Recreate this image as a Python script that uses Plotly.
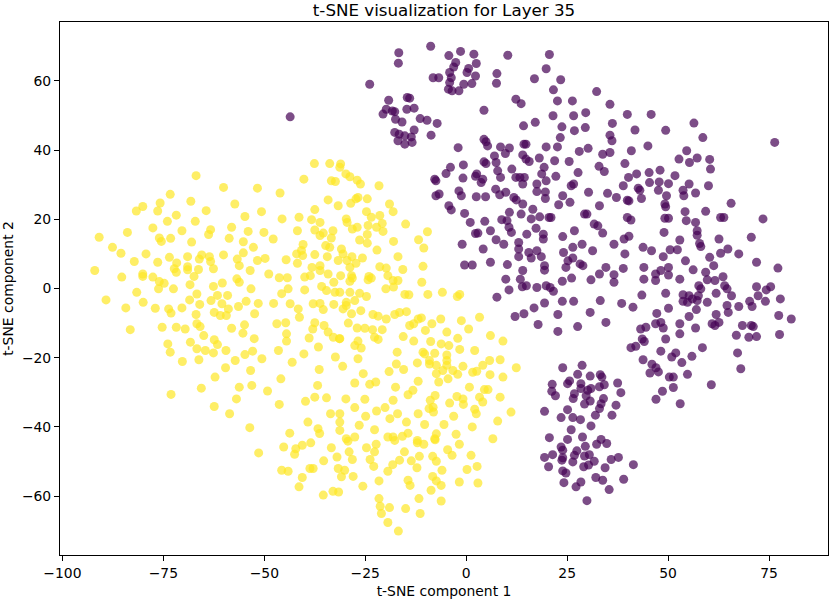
import plotly.graph_objects as go

# t-SNE coordinates, grouped by class
purple_pts = [
    (-8.8, 70.0), (-16.7, 68.1), (-16.8, 65.1), (-4.3, 67.3), (-1.4, 68.5), (1.9, 67.7), (2.5, 65.0),
    (-2.6, 65.3), (-3.1, 64.0), (0.6, 63.6), (0.2, 62.4), (2.3, 61.4), (-4.1, 62.4), (-3.7, 60.9),
    (-4.1, 59.5), (-4.4, 57.6), (-3.5, 57.1), (-1.8, 57.1), (-0.6, 59.0), (1.4, 59.2), (-8.2, 60.9),
    (-6.8, 60.9), (-23.9, 59.0), (7.6, 62.1), (7.5, 59.3), (10.3, 67.4), (20.6, 67.6), (19.8, 63.5),
    (16.9, 60.6), (23.4, 60.3), (21.6, 57.4), (22.6, 54.2), (26.3, 54.2), (29.6, 50.8), (26.6, 49.9),
    (21.5, 49.9), (12.3, 54.7), (13.6, 53.4), (4.4, 51.5), (-19.2, 54.4), (-14.6, 55.2), (-14.0, 55.0),
    (-14.7, 51.8), (-12.9, 52.1), (-20.6, 50.4), (-19.8, 51.8), (-18.3, 51.3), (-17.7, 51.1),
    (-17.5, 48.9), (-15.9, 48.1), (-11.4, 49.1), (-9.7, 48.6), (-7.2, 47.7), (-17.7, 45.1),
    (-16.6, 44.6), (-16.9, 42.7), (-15.2, 41.7), (-15.2, 44.1), (-13.6, 43.8), (-13.4, 42.2),
    (-12.9, 45.8), (-8.7, 44.3), (-2.0, 40.7), (4.4, 43.1), (4.9, 42.4), (5.3, 41.2), (8.5, 40.9),
    (10.7, 40.6), (9.7, 39.0), (14.3, 41.7), (14.8, 41.7), (14.0, 38.6), (15.6, 36.7), (14.8, 37.4),
    (17.1, 48.0), (14.2, 47.0), (23.7, 46.7), (26.8, 45.6), (29.5, 46.5), (23.3, 43.6), (19.8, 40.9),
    (22.6, 40.9), (28.0, 39.6), (21.9, 36.9), (25.5, 36.7), (18.1, 37.7), (19.3, 35.0), (18.7, 33.1),
    (27.7, 33.5), (7.0, 38.3), (7.4, 36.4), (4.9, 36.1), (4.4, 36.6), (-0.7, 35.7), (-3.9, 35.0),
    (-5.0, 33.2), (-7.8, 31.6), (-0.8, 31.9), (2.6, 33.1), (2.3, 32.4), (7.8, 34.0), (8.5, 32.1),
    (11.3, 34.5), (12.3, 32.1), (13.3, 32.1), (14.4, 32.1), (22.2, 32.4), (4.1, 31.6), (-43.6, 49.6),
    (32.3, 56.9), (35.6, 53.2), (39.9, 50.3), (45.8, 50.3), (36.2, 47.7), (41.8, 45.8), (49.4, 45.7),
    (56.4, 47.8), (58.6, 43.6), (35.6, 44.3), (36.1, 42.7), (30.2, 40.5), (33.8, 38.8), (35.6, 39.3),
    (40.9, 39.8), (45.0, 41.2), (54.6, 39.8), (52.7, 37.4), (55.3, 36.4), (57.2, 37.7), (60.3, 37.3),
    (60.5, 34.5), (32.9, 35.3), (34.2, 33.8), (39.3, 36.1), (40.2, 32.1), (42.2, 33.1), (45.3, 33.5),
    (48.0, 34.2), (51.7, 32.6), (76.4, 42.2),
    (-7.5, 31.1), (3.7, 30.6), (14.0, 30.2), (17.5, 30.2), (19.8, 31.1), (26.0, 29.7), (26.6, 30.2),
    (30.3, 27.8), (35.0, 27.5), (-7.5, 26.8), (-6.7, 27.3), (-1.8, 28.2), (-1.2, 26.8), (2.5, 26.5),
    (4.8, 26.5), (7.3, 28.7), (8.3, 27.1), (9.8, 27.8), (11.8, 26.3), (12.4, 25.6), (14.0, 24.4),
    (17.5, 28.0), (19.6, 27.9), (19.6, 26.0), (23.9, 26.8), (25.7, 24.9), (22.9, 24.2), (33.0, 23.9),
    (-4.3, 23.9), (-3.7, 22.7), (-0.4, 21.7), (1.0, 19.1), (4.6, 19.4), (8.8, 19.9), (10.1, 19.6),
    (10.7, 22.0), (13.6, 21.5), (16.5, 22.9), (16.1, 20.1), (18.2, 20.7), (20.5, 20.5), (21.0, 20.5),
    (29.3, 21.5), (29.9, 21.5), (31.7, 18.6), (32.6, 18.1), (33.8, 16.0), (2.9, 16.0), (2.3, 15.9),
    (6.0, 16.7), (10.6, 17.7), (11.2, 16.2), (15.0, 15.7), (17.3, 17.4), (19.1, 15.7), (19.1, 14.3),
    (23.9, 15.0), (26.8, 16.7), (-1.0, 12.8), (4.2, 11.4), (7.4, 14.1), (9.3, 12.8), (13.0, 13.3),
    (13.0, 11.4), (13.0, 9.2), (15.5, 10.4), (16.1, 8.8), (17.5, 10.9), (18.6, 9.2), (24.1, 10.4),
    (26.4, 11.9), (28.7, 12.8), (31.3, 10.9), (26.4, 8.8), (25.2, 8.0), (24.7, 6.1), (28.2, 7.1),
    (28.9, 6.6), (-0.4, 6.8), (1.5, 6.8), (6.0, 7.6), (10.2, 6.9), (19.4, 6.6), (19.4, 5.3),
    (14.0, 5.2), (34.6, 6.1), (33.0, 4.2), (9.8, 2.7), (13.4, 2.7), (14.9, 0.8), (13.9, 0.5),
    (10.6, -0.4), (17.5, 0.3), (19.8, 0.8), (20.8, 0.3), (21.6, -0.8), (23.8, 2.1), (26.1, 3.0),
    (30.9, 2.5), (7.6, -2.5), (23.8, -3.7), (26.6, -3.7), (19.4, -4.2), (16.8, -5.6), (14.3, -7.3),
    (12.1, -8.1), (22.7, -7.5), (30.7, -6.9), (33.2, -3.5), (34.6, -9.8), (17.8, -10.4), (27.6, -11.0),
    (22.7, -12.4),
    (38.9, 29.7), (45.4, 30.6), (47.8, 30.8), (50.1, 30.3), (55.2, 30.2), (60.0, 29.7), (42.6, 29.0),
    (43.0, 28.4), (47.6, 28.4), (53.7, 28.4), (53.9, 26.8), (56.8, 27.6), (49.6, 26.8), (37.2, 26.3),
    (39.9, 25.5), (40.3, 25.3), (43.4, 26.0), (49.2, 24.4), (49.4, 23.6), (65.6, 24.6), (54.2, 22.2),
    (59.3, 22.3), (54.5, 19.6), (56.8, 19.1), (63.0, 20.5), (63.8, 20.5), (73.5, 20.1), (39.9, 20.5),
    (40.8, 19.8), (49.2, 20.3), (50.1, 20.3), (49.0, 16.2), (57.2, 16.7), (57.2, 15.4), (52.9, 14.0),
    (57.8, 13.0), (58.1, 12.1), (62.6, 14.3), (70.6, 14.8), (36.6, 12.8), (39.1, 14.3), (40.3, 15.1),
    (43.8, 11.9), (45.9, 10.9), (50.5, 11.2), (52.3, 11.2), (48.8, 9.2), (54.3, 8.0), (60.3, 9.0),
    (61.3, 6.6), (63.0, 10.2), (64.8, 11.4), (67.5, 10.0), (71.9, 7.6), (39.3, 10.0), (38.9, 5.8),
    (36.6, 4.0), (36.6, 1.8), (44.0, 6.1), (44.0, 2.7), (46.9, 4.2), (46.9, 2.3), (48.2, 5.2),
    (50.1, 6.1), (50.1, 3.9), (52.9, 2.7), (56.2, 5.4), (59.3, 4.7), (59.7, 2.5), (57.6, 0.8),
    (61.6, 2.3), (63.6, 3.4), (64.0, 0.8), (64.6, -0.1), (71.9, 0.5), (74.3, -0.4), (75.4, 0.5),
    (72.3, -2.1), (77.2, 5.9), (43.5, -1.9), (49.4, -1.4), (53.7, -1.8), (55.2, -2.1), (56.0, -3.0),
    (57.5, -2.1), (58.1, -0.1), (53.7, -3.7), (54.8, -4.0), (57.2, -3.5), (59.7, -4.0), (61.9, -1.4),
    (65.7, -2.1), (70.2, -3.7), (70.8, -5.2), (74.1, -3.7), (77.8, -3.0), (38.5, -4.3), (41.3, -5.4),
    (50.1, -5.7), (57.0, -6.1), (64.6, -4.9), (67.5, -5.2), (64.9, -6.9), (47.2, -7.2), (48.2, -9.8),
    (48.8, -11.4), (44.5, -11.2), (43.2, -11.7), (46.9, -10.2), (55.2, -8.1), (52.9, -10.2),
    (56.8, -11.4), (52.9, -13.1), (61.9, -7.5), (62.6, -9.8), (60.9, -10.2), (61.6, -10.7),
    (68.4, -10.7), (70.6, -10.7), (71.1, -11.0), (66.9, -13.5), (70.0, -14.1), (71.9, -13.9),
    (77.4, -7.8), (80.5, -8.8), (77.6, -13.3), (49.4, -14.6), (43.6, -14.6),
    (44.1, -15.3), (40.8, -17.1), (42.0, -16.7), (48.2, -18.1), (51.9, -18.6), (50.9, -19.8),
    (53.4, -21.4), (55.9, -19.6), (58.5, -17.1), (67.2, -18.6), (43.8, -20.6), (46.0, -21.9),
    (47.0, -22.9), (47.6, -24.1), (45.5, -24.4), (50.3, -25.6), (51.3, -25.6), (54.8, -24.8),
    (60.7, -27.8), (68.0, -23.2), (51.3, -28.6), (48.6, -29.7), (47.0, -32.0), (53.0, -33.3),
]

purple_lower_pts = [
    (23.9, -22.9), (28.7, -22.2), (27.6, -24.8), (30.7, -25.3), (33.2, -24.9), (33.6, -25.6),
    (34.2, -27.8), (37.5, -27.3), (38.3, -30.1), (21.3, -27.7), (21.2, -29.7), (22.1, -31.0),
    (25.6, -26.7), (25.1, -27.5), (28.4, -27.5), (28.4, -28.9), (26.8, -30.4), (26.5, -31.8),
    (30.1, -29.4), (30.9, -28.9), (29.7, -31.0), (30.7, -32.5), (29.3, -33.4), (33.0, -28.4),
    (34.0, -31.8), (33.4, -33.3), (33.0, -34.7), (37.1, -33.7), (36.1, -36.6), (32.0, -36.6),
    (30.9, -39.7), (19.4, -35.5), (23.5, -37.3), (25.1, -35.0), (26.4, -37.3), (28.3, -37.9),
    (26.0, -40.8), (20.6, -43.1), (25.1, -43.6), (23.5, -45.8), (23.9, -46.7), (21.4, -48.0),
    (19.4, -48.8), (20.4, -51.5), (23.7, -49.6), (23.9, -48.9), (26.8, -48.2), (26.4, -50.1),
    (27.4, -46.9), (28.8, -42.9), (29.5, -45.6), (29.3, -48.4), (30.5, -48.0), (29.1, -51.5),
    (30.3, -51.0), (31.7, -49.9), (32.3, -45.0), (33.4, -43.6), (34.8, -44.8), (35.9, -49.4),
    (37.7, -48.8), (34.4, -51.8), (41.4, -50.9), (23.9, -52.7), (24.7, -53.3), (24.2, -56.1),
    (28.4, -55.9), (27.2, -57.3), (32.1, -54.6), (33.8, -55.4), (35.4, -58.1), (39.0, -55.1),
    (29.9, -61.3),
]

yellow_pts = [
    (-66.9, 32.6), (-60.1, 29.2), (-51.7, 29.0), (-73.3, 27.2), (-75.8, 24.7), (-80.1, 23.7),
    (-81.7, 22.4), (-76.4, 22.4), (-68.2, 25.2), (-64.4, 22.5), (-57.3, 24.4), (-54.8, 20.8),
    (-50.7, 22.2), (-71.8, 21.2), (-74.0, 19.4), (-67.1, 19.4), (-77.6, 17.5), (-83.9, 16.2),
    (-70.4, 16.7), (-63.3, 17.0), (-63.8, 15.6), (-58.1, 17.7), (-54.0, 16.5), (-50.1, 16.2),
    (-90.9, 14.8), (-76.0, 14.6), (-75.5, 13.6), (-73.2, 14.5), (-68.0, 13.4), (-58.7, 14.5),
    (-55.2, 13.5), (-52.7, 11.9), (-87.6, 11.9), (-85.5, 10.2), (-79.3, 10.0), (-82.2, 7.8),
    (-76.4, 7.6), (-73.5, 9.0), (-71.7, 7.4), (-69.0, 9.2), (-66.1, 8.5), (-65.5, 9.7), (-63.6, 9.2),
    (-63.3, 7.8), (-60.1, 9.7), (-56.7, 8.5), (-55.2, 10.3), (-51.7, 8.1), (-49.8, 8.7), (-56.2, 6.6),
    (-92.0, 5.2), (-85.3, 3.3), (-80.1, 4.2), (-80.1, 3.5), (-77.6, 3.3), (-72.3, 5.7), (-71.8, 4.7),
    (-69.0, 6.3), (-69.0, 5.4), (-66.3, 5.5), (-62.6, 5.7), (-53.5, 5.2), (-48.9, 4.2), (-76.0, 2.0),
    (-74.8, 1.5), (-67.4, 3.5), (-68.4, 1.1), (-62.6, 0.6), (-60.4, 1.6), (-56.8, 2.8), (-56.2, 1.8),
    (-53.3, -0.1), (-72.5, -0.1), (-76.2, -0.1),
    (-37.6, 36.1), (-33.8, 36.1), (-31.1, 36.0), (-31.3, 35.0), (-29.8, 33.1), (-28.8, 32.3),
    (-27.0, 31.3), (-26.2, 30.2), (-40.2, 31.6), (-33.4, 31.1), (-32.4, 30.9), (-21.6, 29.7),
    (-46.1, 27.6), (-34.2, 25.6), (-31.7, 23.9), (-28.6, 24.6), (-27.3, 25.9), (-26.8, 26.3),
    (-24.5, 25.9), (-37.5, 22.8), (-19.0, 24.4), (-18.1, 22.2), (-24.7, 22.2), (-45.6, 20.1),
    (-41.4, 20.6), (-38.3, 19.9), (-36.2, 19.1), (-29.7, 20.1), (-29.5, 19.1), (-23.5, 20.6),
    (-21.4, 21.1), (-20.8, 18.8), (-15.0, 18.6), (-27.0, 17.7), (-28.2, 17.2), (-24.3, 18.2),
    (-22.2, 17.7), (-20.6, 16.5), (-47.8, 14.3), (-41.8, 16.7), (-37.5, 16.9), (-35.4, 16.0),
    (-33.0, 16.7), (-33.4, 14.6), (-36.2, 15.3), (-26.4, 14.0), (-24.5, 15.6), (-24.5, 13.1),
    (-18.0, 13.6), (-11.8, 14.1), (-9.6, 16.4), (-10.5, 11.7), (-40.4, 12.7), (-40.8, 11.0),
    (-42.0, 10.0), (-40.5, 9.5), (-34.8, 12.4), (-33.8, 11.9), (-30.9, 11.4), (-30.5, 10.0),
    (-28.3, 9.2), (-22.1, 11.1), (-16.9, 9.2), (-44.6, 8.3), (-41.8, 7.3), (-37.5, 9.8), (-34.4, 9.2),
    (-31.7, 8.1), (-29.5, 8.1), (-27.3, 7.3), (-25.7, 8.8), (-38.2, 6.1), (-36.2, 6.6), (-36.2, 5.2),
    (-34.2, 4.2), (-31.1, 3.7), (-28.8, 6.1), (-28.4, 3.7), (-24.1, 3.5), (-21.4, 6.3), (-19.8, 5.9),
    (-19.4, 3.7), (-18.1, 2.3), (-16.9, 2.3), (-15.7, 5.5), (-10.7, 6.4), (-46.3, 3.1), (-44.3, 3.1),
    (-40.0, 3.3), (-38.6, 3.7), (-32.8, 1.8), (-28.8, 2.1), (-28.2, 3.0), (-24.3, 2.5), (-23.5, 3.0),
    (-11.0, 1.8), (-44.1, -0.1), (-40.0, -0.4), (-35.8, 0.6), (-34.6, -0.6), (-32.5, -1.1),
    (-31.3, -1.1), (-28.8, -1.1), (-26.4, -1.4), (-24.7, -2.3), (-19.9, -0.1), (-18.0, 0.4),
    (-15.2, -1.7), (-14.2, -1.8), (-9.5, -1.7), (-5.9, -1.1), (-2.2, -2.3), (-1.6, -1.7), (-45.7, -1.5),
    (-89.2, -3.3), (-84.3, -5.6), (-81.6, -1.1), (-83.2, -11.9),
    (-80.0, -4.0), (-77.0, -5.7), (-73.7, -5.9), (-73.1, -7.1), (-70.4, -5.6), (-68.5, -3.3),
    (-66.7, -1.6), (-66.0, -4.6), (-63.2, -3.5), (-61.6, -2.0), (-60.5, -4.4), (-59.1, -2.0),
    (-62.4, -6.9), (-60.9, -7.8), (-59.4, -7.8), (-58.9, -5.9), (-56.4, -5.2), (-54.5, -3.7),
    (-51.5, -4.3), (-52.4, -7.3), (-47.7, -4.3), (-43.6, -4.4), (-41.6, -5.9), (-41.3, -8.3),
    (-37.9, -4.4), (-36.2, -4.3), (-35.4, -6.1), (-32.8, -4.6), (-66.9, -7.5), (-66.7, -10.2),
    (-65.9, -11.0), (-71.8, -11.2), (-69.6, -11.7), (-75.3, -11.2), (-65.0, -13.6), (-62.4, -14.8),
    (-61.6, -16.2), (-68.3, -15.5), (-73.9, -16.0), (-73.3, -18.4), (-66.7, -17.4), (-64.6, -17.9),
    (-62.6, -18.6), (-59.5, -17.9), (-58.1, -11.5), (-54.9, -10.5), (-55.3, -12.9), (-52.5, -14.5),
    (-46.9, -10.2), (-44.7, -9.9), (-44.5, -13.1), (-44.5, -15.2), (-38.0, -11.7), (-37.5, -9.9),
    (-35.2, -10.7), (-34.2, -12.6), (-32.9, -14.1), (-31.4, -14.5), (-38.9, -14.3), (-36.6, -16.9),
    (-40.2, -18.9), (-46.5, -17.9), (-50.6, -20.3), (-52.9, -18.1), (-54.8, -19.1), (-57.2, -20.8),
    (-59.6, -22.9), (-62.2, -25.6), (-66.2, -20.6), (-70.3, -21.1), (-53.4, -23.7), (-45.9, -26.1),
    (-43.1, -21.3), (-36.4, -23.4), (-32.4, -19.8), (-56.2, -28.5), (-53.1, -28.0), (-49.2, -29.6),
    (-65.6, -28.8), (-73.1, -30.6), (-62.4, -34.1), (-56.9, -31.9), (-58.6, -36.2), (-46.3, -33.5),
    (-39.8, -32.6), (-37.5, -31.4), (-34.6, -31.6), (-36.8, -28.0), (-33.6, -36.2),
    (-53.6, -40.2), (-51.4, -47.5),
]

yellow_lower_pts = [
    (-39.2, -38.6), (-36.7, -40.5), (-36.3, -41.9), (-43.7, -41.8), (-45.2, -45.8), (-42.2, -46.3),
    (-42.5, -47.9), (-40.6, -45.3), (-38.5, -44.6), (-33.4, -46.0), (-32.0, -48.7), (-29.3, -44.1),
    (-29.0, -47.2), (-28.2, -49.4), (-24.7, -46.0), (-22.3, -45.0), (-22.7, -47.2), (-23.8, -49.4),
    (-22.9, -51.4), (-17.7, -43.9), (-12.1, -44.6), (-10.5, -45.0), (-15.3, -47.2), (-16.5, -49.6),
    (-18.2, -50.9), (-13.6, -49.8), (-11.6, -48.5), (-12.2, -51.8), (-7.7, -43.7), (-8.3, -48.5),
    (-7.4, -49.9), (-4.6, -46.6), (-3.5, -48.2), (-1.7, -45.0), (1.2, -48.2), (0.2, -52.3),
    (2.7, -51.4), (-6.0, -52.5), (-8.3, -54.3), (-7.4, -55.6), (-6.2, -56.9), (-1.7, -55.9),
    (2.9, -56.2), (-8.7, -58.3), (-6.2, -61.4), (-11.7, -60.7), (-15.0, -63.6), (-11.4, -65.0),
    (-45.7, -52.5), (-44.1, -52.8), (-38.7, -52.0), (-37.9, -52.0), (-40.6, -54.6), (-41.4, -57.3),
    (-35.3, -49.8), (-31.7, -52.0), (-30.1, -52.5), (-30.9, -54.4), (-28.0, -54.3), (-25.6, -57.1),
    (-19.4, -52.8), (-21.6, -55.6), (-14.4, -55.4), (-13.9, -56.9), (-35.4, -59.7), (-33.0, -58.6),
    (-31.6, -58.8), (-21.6, -60.7), (-21.3, -62.9), (-21.0, -65.0), (-19.0, -63.3), (-19.4, -67.6),
    (-16.8, -70.1),
    (-29.7, -4.0), (-30.5, -5.9), (-27.6, -3.5), (-29.7, -4.9), (-28.4, -7.3), (-26.1, -6.4),
    (-23.1, -7.5), (-21.8, -8.0), (-19.8, -8.8), (-17.7, -7.5), (-16.5, -6.9), (-14.8, -6.7),
    (-29.2, -10.0), (-27.0, -11.4), (-25.1, -11.5), (-23.2, -11.9), (-20.8, -11.9), (-22.7, -14.1),
    (-21.8, -14.7), (-15.6, -13.9), (-14.0, -10.7), (-13.0, -10.2), (-11.9, -8.8), (-11.1, -8.5),
    (-8.5, -10.2), (-10.1, -12.1), (-6.3, -8.8), (-4.8, -12.6), (-1.2, -9.3), (0.6, -11.7),
    (3.3, -8.3), (6.0, -13.6), (9.1, -15.2), (-2.1, -14.4), (-6.2, -16.0), (-4.3, -16.5),
    (-8.8, -15.3), (-13.0, -15.2), (-26.8, -15.2), (-27.6, -16.5), (-26.0, -17.2), (-31.3, -14.5),
    (-17.1, -18.4), (-10.7, -18.4), (-10.3, -18.9), (-7.8, -18.7), (-4.8, -19.2), (-4.8, -20.8),
    (-4.8, -22.2), (-1.6, -17.6), (2.1, -17.9), (5.8, -20.8), (8.4, -20.6), (12.4, -22.9),
    (-30.6, -22.5), (-26.8, -20.3), (-17.3, -21.8), (-15.5, -23.4), (-19.1, -24.0), (-12.1, -21.5),
    (-9.1, -20.8), (-9.1, -21.8), (-7.4, -22.2), (-7.4, -24.6), (-5.8, -23.7), (-3.3, -23.7),
    (-2.1, -24.8), (-0.8, -22.5), (1.6, -24.2), (2.6, -23.9), (4.1, -22.2), (5.9, -24.9), (9.1, -25.6),
    (-25.5, -24.6), (-27.6, -27.3), (-23.9, -27.7), (-22.4, -27.0), (-17.5, -28.5), (-11.9, -26.8),
    (-13.2, -29.4), (-14.4, -30.7), (-6.8, -27.0), (-4.5, -26.1), (0.8, -28.5), (4.5, -29.2),
    (5.4, -29.2), (3.3, -31.4), (4.1, -32.8), (8.4, -31.4), (-29.8, -31.9), (-25.1, -32.0),
    (-18.1, -32.3), (-8.9, -32.3), (-7.7, -30.9), (-8.2, -34.3), (-8.1, -35.7), (-9.2, -34.7),
    (-4.1, -33.1), (-2.3, -31.2), (-0.8, -31.9), (-0.7, -33.5), (2.1, -34.9), (2.5, -36.2),
    (11.1, -35.7), (-31.3, -36.2), (-27.6, -34.4), (-24.9, -36.9), (-22.2, -35.4), (-20.1, -34.4),
    (-18.9, -37.6), (-17.0, -36.2), (-14.8, -38.6), (-11.9, -36.2), (-10.3, -39.3), (-5.5, -39.3),
    (-3.1, -36.9), (1.5, -40.0), (7.8, -38.3), (-31.3, -38.6), (-26.5, -39.5), (-22.7, -40.8),
    (-29.7, -43.4), (-27.6, -42.9), (-19.4, -42.9), (-18.1, -42.9), (-15.8, -42.7), (-14.4, -41.8),
    (-12.1, -43.9), (-7.4, -42.0), (-2.5, -42.1), (6.6, -43.4), (-7.8, -43.4), (-31.3, -41.0),
]

x_ticks = [-100, -75, -50, -25, 0, 25, 50, 75]
y_ticks = [-60, -40, -20, 0, 20, 40, 60]

purple = purple_pts + purple_lower_pts
yellow = yellow_pts + yellow_lower_pts

fig = go.Figure()
for pts, color in [(purple, "#440154"), (yellow, "#fde725")]:
    fig.add_trace(go.Scatter(
        x=[p[0] for p in pts], y=[p[1] for p in pts],
        mode="markers",
        marker=dict(size=9, color=color, opacity=0.7, line=dict(width=0)),
        showlegend=False,
    ))

axis_style = dict(
    showgrid=False, zeroline=False, showline=True, linecolor="black", linewidth=1,
    mirror=True, ticks="outside", ticklen=5, tickcolor="black", automargin=False,
    tickfont=dict(size=13.9, color="black"),
)

fig.update_layout(
    width=830, height=600,
    margin=dict(l=60, r=2, t=22, b=45),
    plot_bgcolor="white", paper_bgcolor="white",
    font=dict(family="DejaVu Sans", color="black"),
    title=dict(text="t-SNE visualization for Layer 35", x=0.5, xref="paper", xanchor="center",
               y=0.983, yanchor="middle", yref="container", automargin=False,
               font=dict(size=16.7)),
    xaxis=dict(range=[-100.6, 89.6], tickvals=x_ticks,
               title=dict(text="t-SNE component 1", font=dict(size=13.9), standoff=6),
               **axis_style),
    yaxis=dict(range=[-77, 77], tickvals=y_ticks,
               title=dict(text="t-SNE component 2", font=dict(size=13.9), standoff=6),
               **axis_style),
)

# drop the default 8px page margin so the figure sits at the window's top-left
fig.write_html("out.html", config={"displayModeBar": False},
               post_script="document.body.style.margin='0';")
